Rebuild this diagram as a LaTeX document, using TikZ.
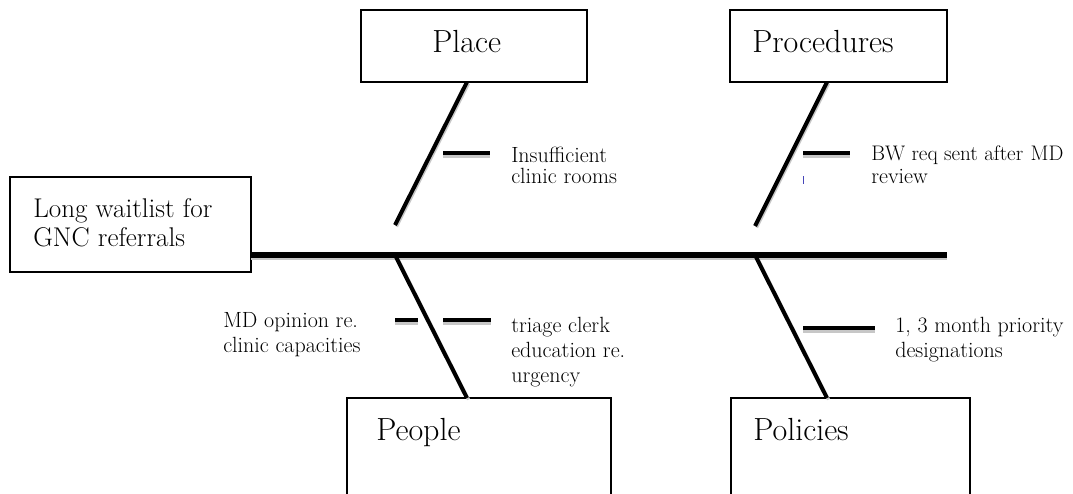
\documentclass[tikz,border=0pt]{standalone}
\usepackage{fontspec}
\usetikzlibrary{fit}
\tikzset{
  box/.style={draw=black, line width=1.1pt, inner sep=0pt, fill=none},
  head/.style={anchor=base west, inner sep=0pt, font=\fontsize{24}{28}\selectfont},
  mainlbl/.style={anchor=base west, inner sep=0pt, font=\fontsize{20.3}{24}\selectfont},
  small/.style={anchor=base west, inner sep=0pt, font=\fontsize{16.5}{19}\selectfont, align=left},
  bone/.style={line width=3pt, black},
  boneshadow/.style={line width=2.4pt, black!22},
  sub/.style={line width=3.4pt, black},
  subshadow/.style={line width=3pt, black!22},
}
\begin{document}
\begin{tikzpicture}[x=0.75pt,y=-0.75pt]
\useasboundingbox (0,0) rectangle (1073,493);
\clip (0,0) rectangle (1073,493);
\fill[white] (0,0) rectangle (1073,493);

% boxes
\node[box, fit={(361,10) (587,82)}] (place) {};
\node[box, fit={(730,10) (947,82)}] (proc) {};
\node[box, fit={(10,177) (251,272)}] (effect) {};
\node[box, fit={(347,398) (611,530)}] (people) {};
\node[box, fit={(731,398) (970,530)}] (policies) {};

% box texts
\node[head] (placet) at (432,52) {Place};
\node[head] (proct) at (752,52) {Procedures};
\node[head] (peoplet) at (376,440) {People};
\node[head] (policiest) at (753,440) {Policies};
\node[mainlbl] (eff1) at (33,217) {Long waitlist for};
\node[mainlbl] (eff2) at (33,246) {GNC referrals};

% bone coordinates
\coordinate (spineA) at (251,255);
\coordinate (spineB) at (947,255);
\coordinate (plA) at (467,82);
\coordinate (plB) at (395,225);
\coordinate (prA) at (827,82);
\coordinate (prB) at (755,226);
\coordinate (peA) at (395,255);
\coordinate (peB) at (467,398);
\coordinate (poA) at (755,255);
\coordinate (poB) at (827,398);

% shadows
\draw[subshadow] ([shift={(0,3)}]spineA) -- ([shift={(0,3)}]spineB);
\foreach \a/\b in {plA/plB, prA/prB, peA/peB, poA/poB}
  \draw[boneshadow] ([shift={(1.5,1.5)}]\a) -- ([shift={(1.5,1.5)}]\b);

% spine and bones
\draw[line width=3.8pt] (spineA) -- (spineB);
\draw[bone] (plA) -- (plB);
\draw[bone] (prA) -- (prB);
\draw[bone] (peA) -- (peB);
\draw[bone] (poA) -- (poB);

% sub-bones
\coordinate (s1a) at (443,153); \coordinate (s1b) at (490,153);
\coordinate (s2a) at (803,153); \coordinate (s2b) at (850,153);
\coordinate (s3a) at (443,320); \coordinate (s3b) at (491,320);
\coordinate (s4a) at (395,320); \coordinate (s4b) at (418,320);
\coordinate (s5a) at (803,328); \coordinate (s5b) at (875,328);
\foreach \a/\b in {s1a/s1b, s2a/s2b, s3a/s3b, s4a/s4b, s5a/s5b}{
  \draw[subshadow] ([shift={(0,3)}]\a) -- ([shift={(0,3)}]\b);
  \draw[sub] (\a) -- (\b);
}
\coordinate (tickA) at (803,176); \coordinate (tickB) at (803,184);
\draw[line width=0.6pt, blue!45!gray] (tickA) -- (tickB);

% cause texts
\node[small] (c1a) at (511,162) {Insufficient};
\node[small] (c1b) at (511,183.5) {clinic rooms};
\node[small, font=\fontsize{15.8}{19}\selectfont] (c2a) at (871,160) {BW req sent after\hspace{0.35em}MD};
\node[small] (c2b) at (871,183) {review};
\node[small] (c3a) at (511,332) {triage clerk};
\node[small] (c3b) at (511,357) {education re.};
\node[small] (c3c) at (511,382) {urgency};
\node[small] (c4a) at (223,327) {MD opinion re.};
\node[small] (c4b) at (223,352) {clinic capacities};
\node[small] (c5a) at (895,332) {1, 3 month priority};
\node[small] (c5b) at (895,357) {designations};
\end{tikzpicture}
\end{document}
